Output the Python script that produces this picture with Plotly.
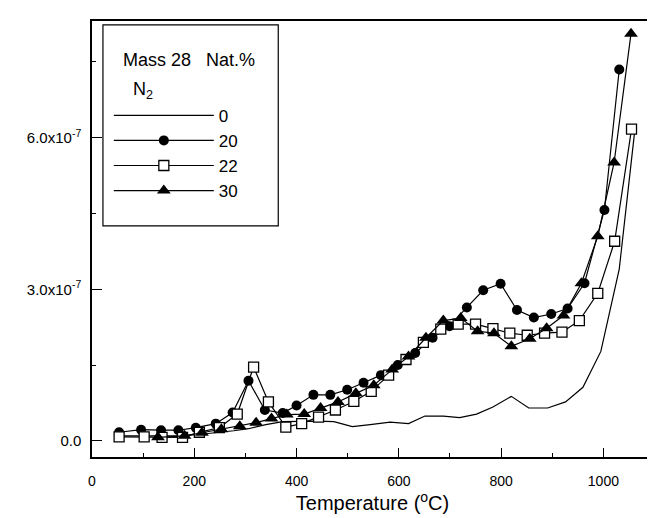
import plotly.graph_objects as go

SCALE = 1e-7

# 0 Nat.% (line only)
x0 = [52, 97, 135, 170, 204, 243, 277, 306, 340, 373, 408, 440, 473, 509, 544,
      583, 619, 651, 687, 719, 752, 784, 820, 854, 891, 926, 960, 995, 1031, 1062]
y0 = [0.10, 0.10, 0.10, 0.10, 0.12, 0.16, 0.20, 0.24, 0.32, 0.38, 0.39, 0.39, 0.38, 0.28, 0.32,
      0.37, 0.34, 0.49, 0.49, 0.46, 0.53, 0.67, 0.88, 0.65, 0.65, 0.77, 1.06, 1.77, 3.40, 6.20]

# 20 Nat.% (filled circles)
x20 = [53, 96, 135, 169, 203, 242, 275, 306, 338, 373, 400, 433, 466, 499, 531,
       565, 598, 632, 666, 699, 733, 765, 799, 831, 864, 898, 930, 963, 1002, 1031]
y20 = [0.17, 0.22, 0.21, 0.21, 0.26, 0.34, 0.56, 1.19, 0.61, 0.55, 0.70, 0.91, 0.91, 1.01, 1.15,
       1.30, 1.50, 1.74, 2.04, 2.27, 2.64, 2.98, 3.11, 2.59, 2.44, 2.51, 2.62, 3.12, 4.57, 7.35]

# 22 Nat.% (open squares)
x22 = [53, 102, 137, 177, 210, 249, 284, 316, 345, 379, 410, 443, 476, 512, 546,
       580, 614, 648, 682, 716, 750, 784, 817, 851, 885, 919, 953, 989, 1022, 1055]
y22 = [0.08, 0.08, 0.07, 0.07, 0.17, 0.26, 0.53, 1.46, 0.77, 0.27, 0.34, 0.47, 0.61, 0.78, 0.98,
       1.30, 1.61, 1.95, 2.21, 2.31, 2.31, 2.22, 2.13, 2.09, 2.13, 2.15, 2.38, 2.92, 3.95, 6.17]

# 30 Nat.% (filled triangles)
x30 = [129, 181, 215, 253, 289, 321, 351, 381, 415, 447, 481, 516, 551, 587,
       619, 653, 687, 721, 754, 786, 820, 856, 889, 922, 957, 989, 1021, 1054]
y30 = [0.07, 0.10, 0.16, 0.23, 0.29, 0.36, 0.44, 0.52, 0.53, 0.65, 0.77, 0.94, 1.10, 1.41,
       1.67, 2.04, 2.38, 2.43, 2.17, 2.13, 1.87, 2.02, 2.23, 2.48, 3.12, 4.05, 5.51, 8.06]

series_names = ["0", "20", "22", "30"]
legend_header = "Mass 28&nbsp;&nbsp;&nbsp;Nat.%"
legend_sub = "N<sub>2</sub>"

y_tickvals = [0.0, 3.0, 6.0]
y_ticktext = ["0.0", "3.0x10<sup>-7</sup>", "6.0x10<sup>-7</sup>"]
y_minorvals = [1.5, 4.5, 7.5]
x_tickvals = [0, 200, 400, 600, 800, 1000]

FONT = "Liberation Sans, Arial, sans-serif"

def s(v):
    return [a * SCALE for a in v]

fig = go.Figure()
fig.add_trace(go.Scatter(x=x0, y=s(y0), mode="lines", name=series_names[0],
                         line=dict(color="black", width=1.2)))
fig.add_trace(go.Scatter(x=x20, y=s(y20), mode="lines+markers", name=series_names[1],
                         line=dict(color="black", width=1.2),
                         marker=dict(symbol="circle", size=10, color="black")))
fig.add_trace(go.Scatter(x=x22, y=s(y22), mode="lines+markers", name=series_names[2],
                         line=dict(color="black", width=1.2),
                         marker=dict(symbol="square", size=10, color="white",
                                     line=dict(color="black", width=1.3))))
fig.add_trace(go.Scatter(x=x30, y=s(y30), mode="lines+markers", name=series_names[3],
                         line=dict(color="black", width=1.2),
                         marker=dict(symbol="triangle-up", size=12, color="black")))

fig.update_layout(
    width=655, height=518,
    margin=dict(l=84, r=8, t=13, b=69),
    paper_bgcolor="white", plot_bgcolor="white",
    font=dict(family=FONT, color="black", size=14),
    showlegend=True,
    legend=dict(
        x=0.03, y=0.824, xanchor="left", yanchor="top",
        bgcolor="rgba(0,0,0,0)", borderwidth=0,
        font=dict(size=17, family=FONT),
        itemwidth=100,
        tracegroupgap=0,
    ),
    shapes=[dict(type="rect", xref="paper", yref="paper",
                 x0=0.0195, x1=0.332, y0=0.530, y1=0.991,
                 line=dict(color="black", width=1.2), fillcolor="rgba(0,0,0,0)")],
    annotations=[
        dict(text=legend_header, xref="paper", yref="paper", x=0.0515, y=0.9106,
             xanchor="left", yanchor="middle", showarrow=False,
             font=dict(size=18, family=FONT)),
        dict(text=legend_sub, xref="paper", yref="paper", x=0.069, y=0.840,
             xanchor="left", yanchor="middle", showarrow=False,
             font=dict(size=18, family=FONT)),
    ],
)

fig.update_xaxes(
    range=[0, 1097], showgrid=False, zeroline=False,
    showline=True, linecolor="black", linewidth=1.5, mirror=True,
    ticks="inside", ticklen=9, tickwidth=1.3, tickcolor="black",
    tickmode="array", tickvals=x_tickvals,
    minor=dict(ticks="inside", ticklen=4, tickwidth=1.3, tickcolor="black",
               tickmode="linear", tick0=0, dtick=100),
    ticklabelstandoff=10,
    tickfont=dict(size=14, family=FONT),
    title=dict(text="Temperature (<sup>o</sup>C)", font=dict(size=20, family=FONT), standoff=6),
)
fig.update_yaxes(
    range=[-0.32e-7, 8.31e-7], showgrid=False, zeroline=False,
    showline=True, linecolor="black", linewidth=1.5, mirror=True,
    ticks="inside", ticklen=10, tickwidth=1.3, tickcolor="black",
    tickmode="array", tickvals=s(y_tickvals), ticktext=y_ticktext,
    minor=dict(ticks="inside", ticklen=4, tickwidth=1.3, tickcolor="black",
               tickmode="array", tickvals=s(y_minorvals)),
    ticklabelstandoff=6,
    tickfont=dict(size=15, family=FONT),
)

fig.write_html("out.html")
